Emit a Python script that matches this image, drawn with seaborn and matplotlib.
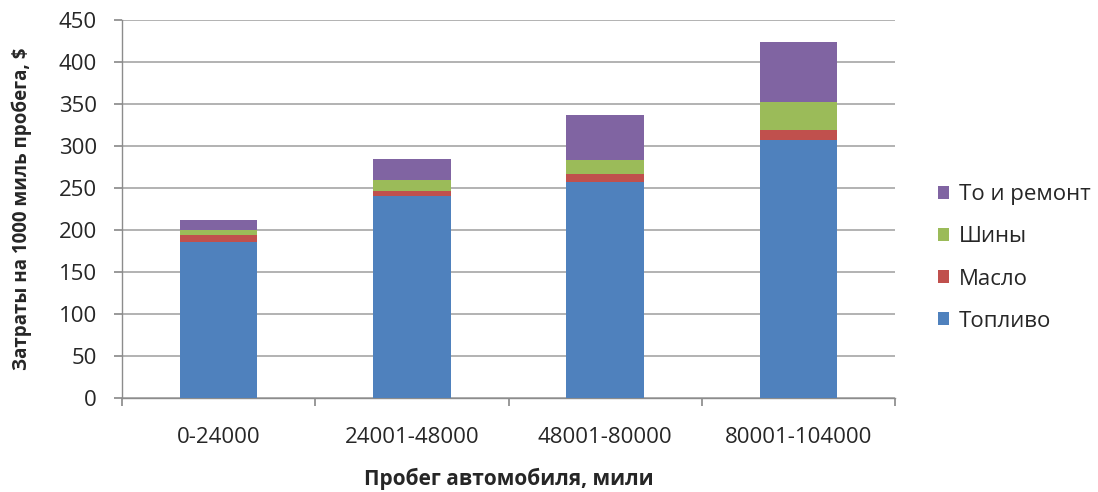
import numpy as np
import pandas as pd
import matplotlib
matplotlib.use("Agg")
import matplotlib.pyplot as plt
import seaborn as sns
from matplotlib.patches import Patch

# Mileage ranges and cost per 1000 miles by component
categories = ["0-24000", "24001-48000", "48001-80000", "80001-104000"]
fuel = [186, 241, 257, 307]
oil = [8, 5, 9.5, 12]
tires = [6, 13, 17, 33]
repair = [12.5, 26, 53, 72]

series_names = ["Топливо", "Масло", "Шины", "То и ремонт"]
series_values = [fuel, oil, tires, repair]
colors = ["#4F81BD", "#C0504D", "#9BBB59", "#8064A2"]

sns.set_theme(style="white")
plt.rcParams["font.family"] = ["Open Sans", "DejaVu Sans"]

fig = plt.figure(figsize=(10.98, 4.92), dpi=100)
ax = fig.add_axes([122 / 1098, 1 - 398 / 492, (895 - 122) / 1098, (398 - 20) / 492])

# Stacked bars: draw cumulative totals from the top layer down
cum = np.cumsum(np.array(series_values, dtype=float), axis=0)
for i in range(len(series_names) - 1, -1, -1):
    df = pd.DataFrame({"cat": categories, "val": cum[i]})
    sns.barplot(data=df, x="cat", y="val", color=colors[i], width=0.4,
                saturation=1, ax=ax, zorder=3, linewidth=0)

ax.set_ylim(0, 450)
ax.set_xlim(-0.5, len(categories) - 0.5)
ax.set_yticks(np.arange(0, 451, 50))
ax.yaxis.grid(True, color="#A6A6A6", linewidth=1.2, zorder=0)
ax.xaxis.grid(False)

for side in ["top", "right"]:
    ax.spines[side].set_visible(False)
for side in ["left", "bottom"]:
    ax.spines[side].set_color("#8C8C8C")
    ax.spines[side].set_linewidth(1.0)

# Category boundary ticks on the x axis
ax.set_xticks(np.arange(-0.5, len(categories), 1.0), minor=False)
ax.set_xticklabels([])
ax.set_xticks(np.arange(len(categories)), minor=True)
ax.set_xticklabels(categories, minor=True)
ax.tick_params(axis="x", which="major", direction="out", length=6, color="#8C8C8C",
               bottom=True)
ax.tick_params(axis="x", which="minor", length=0, pad=21, labelsize=16,
               labelcolor="#262626")
ax.tick_params(axis="y", direction="out", length=6, color="#8C8C8C", left=True,
               labelsize=16, labelcolor="#262626", pad=12)

ax.set_xlabel("Пробег автомобиля, мили", fontsize=15, fontweight="bold",
              color="#262626")
ax.xaxis.label.set_va("center")
ax.xaxis.set_label_coords(0.5, -81 / 378)
ax.set_ylabel("Затраты на 1000 миль пробега, $", fontsize=13.5, fontweight="bold",
              color="#262626")
ax.yaxis.label.set_va("center")
ax.yaxis.set_label_coords(-100 / 773, 0.5)

handles = [Patch(facecolor=c, edgecolor="none") for c in colors]
leg = fig.legend(handles[::-1], series_names[::-1], loc="center left",
                 bbox_to_anchor=(918 / 1098, 1 - 258 / 492), frameon=False,
                 fontsize=16, handlelength=0.5, handleheight=0.5,
                 labelspacing=0.95, handletextpad=0.45)
for t in leg.get_texts():
    t.set_color("#262626")

fig.savefig("out.png", dpi=100)
